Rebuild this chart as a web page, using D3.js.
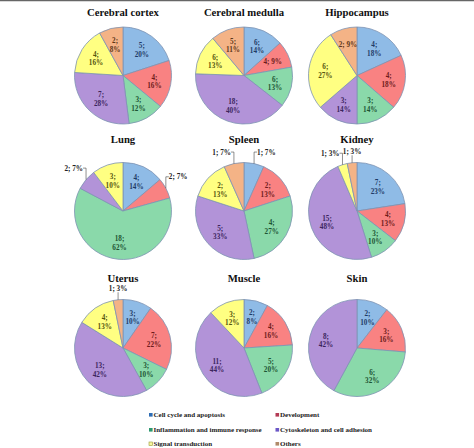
<!DOCTYPE html>
<html>
<head>
<meta charset="utf-8">
<script src="https://cdn.jsdelivr.net/npm/d3@7"></script>
<style>
  html, body { margin: 0; padding: 0; background: #fff; }
  svg { display: block; font-family: "Liberation Serif", "Times New Roman", serif; }
</style>
</head>
<body>
<svg id="chart" width="474" height="448"></svg>
<script>
// categories (legend order = slice order, clockwise from 12 o'clock)
const categories = [
  "Cell cycle and apoptosis", "Development",
  "Inflammation and immune response", "Cytoskeleton and cell adhesion",
  "Signal transduction", "Others"
];
const tissues = ["Cerebral cortex", "Cerebral medulla", "Hippocampus",
  "Lung", "Spleen", "Kidney", "Uterus", "Muscle", "Skin"];

// gene counts per category
const cerebralCortex  = [5, 4, 3, 7, 4, 2];
const cerebralMedulla = [6, 4, 6, 18, 6, 5];
const hippocampus     = [4, 4, 3, 3, 6, 2];
const lung            = [4, 2, 18, 2, 3, 0];
const spleen          = [1, 2, 4, 5, 2, 1];
const kidney          = [7, 4, 3, 15, 1, 1];
const uterus          = [3, 7, 3, 13, 4, 1];
const muscle          = [2, 4, 5, 11, 3, 0];
const skin            = [2, 3, 6, 8, 0, 0];

// percentages as printed on the slices
const cerebralCortexPct  = [20, 16, 12, 28, 16, 8];
const cerebralMedullaPct = [14, 9, 13, 40, 13, 11];
const hippocampusPct     = [18, 18, 14, 14, 27, 9];
const lungPct            = [14, 7, 62, 7, 10, 0];
const spleenPct          = [7, 13, 27, 33, 13, 7];
const kidneyPct          = [23, 13, 10, 48, 3, 3];
const uterusPct          = [10, 22, 10, 42, 13, 3];
const musclePct          = [8, 16, 20, 44, 12, 0];
const skinPct            = [10, 16, 32, 42, 0, 0];

const counts = [cerebralCortex, cerebralMedulla, hippocampus, lung, spleen, kidney, uterus, muscle, skin];
const pcts = [cerebralCortexPct, cerebralMedullaPct, hippocampusPct, lungPct, spleenPct, kidneyPct, uterusPct, musclePct, skinPct];

// colours
const fills   = ["#8fbbe6", "#f98282", "#8ad9aa", "#b293d8", "#ffff82", "#f4b386"];
const inks    = ["#1f3b66", "#6e1c1c", "#1d5534", "#3c255e", "#55550f", "#5e3719"];
const markers = ["#2e6db4", "#b33a55", "#2e9870", "#6b57c7", "#f6f6a0", "#b08a6a"];

// single-line labels inside the slice (tissue index -> slice index)
const oneLine = { 1: [1], 2: [5] };

const svg = d3.select("#chart");
const colX = [123, 244, 357], rowY = [75.5, 211, 348], titleY = [16, 143, 282];
const R = 48.5;

svg.append("line").attr("x1", 0).attr("x2", 474).attr("y1", 0.5).attr("y2", 0.5)
  .attr("stroke", "#666").attr("stroke-width", 1.5);

const pie = d3.pie().sort(null).value(d => d);
const arc = d3.arc().innerRadius(0).outerRadius(R);

tissues.forEach((name, t) => {
  const cx = colX[t % 3], cy = rowY[Math.floor(t / 3)];
  svg.append("text").attr("x", cx).attr("y", titleY[Math.floor(t / 3)])
    .attr("text-anchor", "middle").attr("font-weight", "bold").attr("font-size", 10.7)
    .attr("fill", "#111").text(name);

  const g = svg.append("g").attr("transform", `translate(${cx},${cy})`);
  const arcs = pie(counts[t]);
  g.selectAll("path").data(arcs.filter(d => d.value > 0)).join("path")
    .attr("d", arc)
    .attr("fill", d => fills[d.index])
    .attr("stroke", "#7d93b3").attr("stroke-width", 0.8);

  arcs.filter(d => d.value > 0).forEach(d => {
    const i = d.index, p = pcts[t][i];
    const mid = (d.startAngle + d.endAngle) / 2;
    const sx = Math.sin(mid), sy = -Math.cos(mid);
    const lab = g.append("text").attr("font-weight", "bold").attr("font-size", 7.2)
      .attr("fill", inks[i]).attr("text-anchor", "middle");
    if (p < 8) {
      // outside label with a leader line
      const ex = R * sx, ey = R * sy;
      const ty = ey - 9;
      let anchor = "middle", tx = ex;
      if (Math.abs(sx) > 0.15) { anchor = sx > 0 ? "start" : "end"; tx = ex + (sx > 0 ? 3 : -3); }
      lab.attr("x", tx).attr("y", ty).attr("text-anchor", anchor).attr("fill", "#222")
        .text(`${d.value}; ${p}%`);
      const pts = anchor === "middle"
        ? [[ex, ey], [ex, ty + 1.5]]
        : [[ex, ey], [ex, ty - 2.5], [tx, ty - 2.5]];
      g.append("polyline").attr("points", pts.map(q => q.join(",")).join(" "))
        .attr("fill", "none").attr("stroke", "#444").attr("stroke-width", 0.6);
    } else {
      const lr = R * 0.66;
      const lx = lr * sx, ly = lr * sy;
      if ((oneLine[t] || []).includes(i)) {
        lab.attr("x", lx).attr("y", ly + 2.5).text(`${d.value}; ${p}%`);
      } else {
        lab.append("tspan").attr("x", lx).attr("y", ly - 1.6).text(`${d.value};`);
        lab.append("tspan").attr("x", lx).attr("y", ly + 7).text(`${p}%`);
      }
    }
  });
});

// legend
const legX = [149, 275.5], legY = [415, 430, 444];
categories.forEach((c, i) => {
  const x = legX[i % 2], y = legY[Math.floor(i / 2)];
  svg.append("rect").attr("x", x).attr("y", y - 2).attr("width", 3.6).attr("height", 3.6)
    .attr("fill", markers[i])
    .attr("stroke", i === 4 ? "#9a9a3a" : "none").attr("stroke-width", 0.6);
  svg.append("text").attr("x", x + 4.5).attr("y", y + 2.3)
    .attr("font-weight", "bold").attr("font-size", 7).attr("fill", "#222").text(c);
});
</script>
</body>
</html>
